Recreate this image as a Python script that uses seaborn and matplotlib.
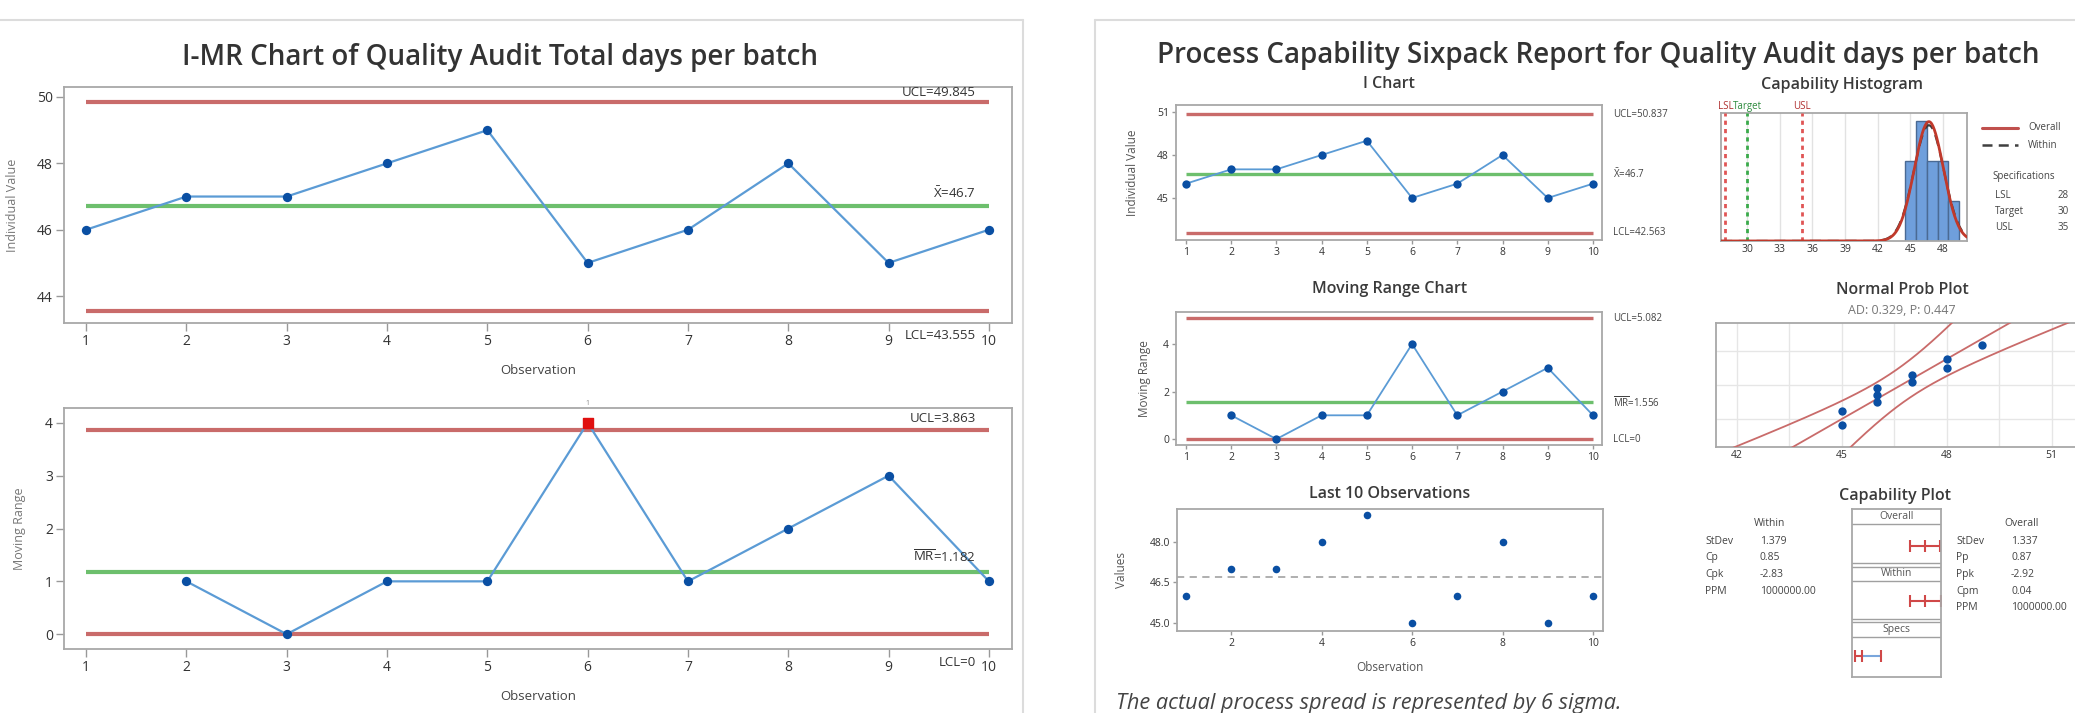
import numpy as np
import matplotlib
matplotlib.use("Agg")
import matplotlib.pyplot as plt
import seaborn as sns
from matplotlib.lines import Line2D
from statistics import NormalDist

W, H = 2075, 713

# observations (days per batch)
observation = [1, 2, 3, 4, 5, 6, 7, 8, 9, 10]
audit_days = [46, 47, 47, 48, 49, 45, 46, 48, 45, 46]
mr_observation = [2, 3, 4, 5, 6, 7, 8, 9, 10]
moving_range = [1, 0, 1, 1, 4, 1, 2, 3, 1]

# I-MR chart limits (left report)
imr_ucl, imr_mean, imr_lcl = 49.845, 46.7, 43.555
imr_mr_ucl, imr_mr_mean, imr_mr_lcl = 3.863, 1.182, 0

# sixpack limits (right report)
six_ucl, six_mean, six_lcl = 50.837, 46.7, 42.563
six_mr_ucl, six_mr_mean, six_mr_lcl = 5.082, 1.556, 0

# specs / capability
lsl, target, usl = 28, 30, 35
within_sd, overall_sd = 1.379, 1.337
within_labels = ["StDev", "Cp", "Cpk", "PPM"]
within_values = ["1.379", "0.85", "-2.83", "1000000.00"]
overall_labels = ["StDev", "Pp", "Ppk", "Cpm", "PPM"]
overall_values = ["1.337", "0.87", "-2.92", "0.04", "1000000.00"]
hist_edges = [44.5, 45.5, 46.5, 47.5, 48.5, 49.5]
hist_ticks = [30, 33, 36, 39, 42, 45, 48]
prob_ticks = [42, 45, 48, 51]
ad_text = "AD: 0.329, P: 0.447"

RED = "#c96b6a"
GREEN = "#6dbf6d"
BLUE = "#5b9bd5"
DOT = "#0a4fa3"
GRAY_TXT = "#444444"

sns.set_theme(style="white")
plt.rcParams["font.family"] = ["Open Sans", "DejaVu Sans"]
plt.rcParams["mathtext.fontset"] = "custom"
plt.rcParams["mathtext.rm"] = "Open Sans"
plt.rcParams["mathtext.it"] = "Open Sans:italic"


def px_axes(fig, l, t, r, b):
    return fig.add_axes([l / W, 1 - b / H, (r - l) / W, (b - t) / H])


def ftext(fig, x, y, s, **kw):
    kw.setdefault("color", GRAY_TXT)
    fig.text(x / W, 1 - y / H, s, **kw)


def fline(fig, x1, y1, x2, y2, **kw):
    fig.add_artist(Line2D([x1 / W, x2 / W], [1 - y1 / H, 1 - y2 / H], **kw))


def style_axes(ax, size, length=4):
    for sp in ax.spines.values():
        sp.set_color("#a8a8a8")
        sp.set_linewidth(1.3)
    ax.tick_params(colors="#999999", labelcolor="#333333", labelsize=size,
                   length=length, width=1, direction="out", pad=2,
                   bottom=True, left=True)
    ax.set_xlabel("")
    ax.set_ylabel("")


def control_chart(ax, x, y, ucl, mean, lcl, lw_lim, lw_line, s):
    ax.hlines([ucl, lcl], 1, 10, color=RED, lw=lw_lim, zorder=2)
    ax.hlines(mean, 1, 10, color=GREEN, lw=lw_lim, zorder=2)
    sns.lineplot(x=x, y=y, ax=ax, color=BLUE, lw=lw_line, zorder=3)
    sns.scatterplot(x=x, y=y, ax=ax, color=DOT, s=s, edgecolor=DOT,
                    linewidth=0, zorder=4)


fig = plt.figure(figsize=(W / 100, H / 100), dpi=100)

# panel frames
fline(fig, 0, 20, 1023, 20, color="#dcdcdc", lw=1.5)
fline(fig, 1023, 20, 1023, 713, color="#dcdcdc", lw=1.5)
fline(fig, 1095, 20, 2075, 20, color="#dcdcdc", lw=1.5)
fline(fig, 1095, 20, 1095, 713, color="#dcdcdc", lw=1.5)

# ---------------- left: I-MR chart ----------------
ftext(fig, 500, 58, "I-MR Chart of Quality Audit Total days per batch",
      ha="center", va="center", fontsize=20, weight="semibold", color="#333333")

ax = px_axes(fig, 64, 87, 1012, 323)
control_chart(ax, observation, audit_days, imr_ucl, imr_mean, imr_lcl, 3, 1.6, 45)
ax.set_xlim(0.78, 10.23)
ax.set_ylim(43.19, 50.3)
ax.set_xticks(observation)
ax.set_yticks([44, 46, 48, 50])
style_axes(ax, 10, length=6)
ax.set_ylabel("Individual Value", fontsize=9, color="#777777")
ax.yaxis.set_label_coords(-0.047, 0.5)
ax.set_xlabel("Observation", fontsize=9.5, color=GRAY_TXT)
ax.xaxis.set_label_coords(0.5, -0.174)
yt = ax.get_yaxis_transform()
ax.annotate(f"UCL={imr_ucl}", (0.962, imr_ucl), xycoords=yt, xytext=(0, 10),
            textcoords="offset pixels", ha="right", va="center", fontsize=9.5, color="#333333")
ax.annotate(r"$\bar{\mathrm{X}}$" + f"={imr_mean}", (0.962, imr_mean), xycoords=yt,
            xytext=(0, 13), textcoords="offset pixels", ha="right", va="center",
            fontsize=9.5, color="#333333")
ax.annotate(f"LCL={imr_lcl}", (0.962, imr_lcl), xycoords=yt, xytext=(0, -25),
            textcoords="offset pixels", ha="right", va="center", fontsize=9.5, color="#333333")

ax = px_axes(fig, 64, 408, 1012, 649)
control_chart(ax, mr_observation, moving_range, imr_mr_ucl, imr_mr_mean, imr_mr_lcl, 3, 1.6, 45)
ax.scatter([6], [4], marker="s", s=45, color="#e01010", zorder=5)
ax.text(6, 4.3, "1", ha="center", va="bottom", fontsize=5, color="#888888")
ax.set_xlim(0.78, 10.23)
ax.set_ylim(-0.28, 4.28)
ax.set_xticks(observation)
ax.set_yticks([0, 1, 2, 3, 4])
style_axes(ax, 10, length=6)
ax.set_ylabel("Moving Range", fontsize=9, color="#777777")
ax.yaxis.set_label_coords(-0.04, 0.5)
ax.set_xlabel("Observation", fontsize=9.5, color=GRAY_TXT)
ax.xaxis.set_label_coords(0.5, -0.17)
yt = ax.get_yaxis_transform()
ax.annotate(f"UCL={imr_mr_ucl}", (0.962, imr_mr_ucl), xycoords=yt, xytext=(0, 12),
            textcoords="offset pixels", ha="right", va="center", fontsize=9.5, color="#333333")
ax.annotate(r"$\overline{\mathrm{MR}}$" + f"={imr_mr_mean}", (0.962, imr_mr_mean),
            xycoords=yt, xytext=(0, 15), textcoords="offset pixels", ha="right",
            va="center", fontsize=9.5, color="#333333")
ax.annotate(f"LCL={imr_mr_lcl}", (0.962, imr_mr_lcl), xycoords=yt, xytext=(0, -28),
            textcoords="offset pixels", ha="right", va="center", fontsize=9.5, color="#333333")

# ---------------- right: capability sixpack ----------------
ftext(fig, 1598, 56, "Process Capability Sixpack Report for Quality Audit days per batch",
      ha="center", va="center", fontsize=20, weight="semibold", color="#333333")

sub_kw = dict(ha="center", va="center", fontsize=11.5, weight="semibold", color="#3a3a3a")
ftext(fig, 1389, 84, "I Chart", **sub_kw)
ftext(fig, 1390, 289, "Moving Range Chart", **sub_kw)
ftext(fig, 1390, 494, "Last 10 Observations", **sub_kw)
ftext(fig, 1842, 85, "Capability Histogram", **sub_kw)
ftext(fig, 1902, 290, "Normal Prob Plot", **sub_kw)
ftext(fig, 1902, 311, ad_text, ha="center", va="center", fontsize=9, color="#777777")
ftext(fig, 1895, 496, "Capability Plot", **sub_kw)

small = dict(fontsize=7, color="#444444", va="center", ha="left")

# I chart
ax = px_axes(fig, 1176, 105, 1602, 240)
control_chart(ax, observation, audit_days, six_ucl, six_mean, six_lcl, 2.4, 1.3, 36)
ax.set_xlim(0.78, 10.2)
ax.set_ylim(42.07, 51.49)
ax.set_xticks(observation)
ax.set_yticks([45, 48, 51])
style_axes(ax, 7.5, length=3)
ax.set_ylabel("Individual Value", fontsize=8.5, color="#555555")
ax.yaxis.set_label_coords(-0.087, 0.5)
yt = ax.get_yaxis_transform()
ax.text(1.025, six_ucl, f"UCL={six_ucl}", transform=yt, **small)
ax.text(1.025, six_mean, r"$\bar{\mathrm{X}}$" + f"={six_mean}", transform=yt, **small)
ax.text(1.025, six_lcl, f"LCL={six_lcl}", transform=yt, **small)

# moving range chart
ax = px_axes(fig, 1176, 312, 1602, 445)
control_chart(ax, mr_observation, moving_range, six_mr_ucl, six_mr_mean, six_mr_lcl, 2.4, 1.3, 36)
ax.set_xlim(0.78, 10.2)
ax.set_ylim(-0.25, 5.35)
ax.set_xticks(observation)
ax.set_yticks([0, 2, 4])
style_axes(ax, 7.5, length=3)
ax.set_ylabel("Moving Range", fontsize=8.5, color="#555555")
ax.yaxis.set_label_coords(-0.059, 0.5)
yt = ax.get_yaxis_transform()
ax.text(1.025, six_mr_ucl, f"UCL={six_mr_ucl}", transform=yt, **small)
ax.text(1.025, six_mr_mean, r"$\overline{\mathrm{MR}}$" + f"={six_mr_mean}", transform=yt, **small)
ax.text(1.025, six_mr_lcl, f"LCL={six_mr_lcl}", transform=yt, **small)

# last 10 observations
ax = px_axes(fig, 1177, 509, 1603, 631)
ax.axhline(six_mean, color="#a9a9a9", lw=1.3, ls=(0, (4, 3)), zorder=1)
sns.scatterplot(x=observation, y=audit_days, ax=ax, color=DOT, s=30,
                edgecolor=DOT, linewidth=0, zorder=4)
ax.set_xlim(0.8, 10.22)
ax.set_ylim(44.7, 49.22)
ax.set_xticks([2, 4, 6, 8, 10])
ax.set_yticks([45.0, 46.5, 48.0])
ax.set_yticklabels(["45.0", "46.5", "48.0"])
style_axes(ax, 7.5, length=3)
ax.set_ylabel("Values", fontsize=8.5, color="#555555")
ax.yaxis.set_label_coords(-0.115, 0.5)
ax.set_xlabel("Observation", fontsize=8.5, color="#555555")
ax.xaxis.set_label_coords(0.5, -0.246)

# capability histogram
ax = px_axes(fig, 1721, 113, 1967, 241)
sns.histplot(x=audit_days, bins=hist_edges, ax=ax, color="#6f9fdc", alpha=1,
             edgecolor="#4a6a94", linewidth=1, zorder=2)
xs = np.linspace(27.6, 50.2, 400)
n = len(audit_days)
ax.plot(xs, n * np.array([NormalDist(six_mean, overall_sd).pdf(v) for v in xs]),
        color="#c0392b", lw=2, zorder=4)
ax.plot(xs, n * np.array([NormalDist(six_mean, within_sd).pdf(v) for v in xs]),
        color="#3c3c3c", lw=1.6, ls=(0, (5, 3)), zorder=3)
for val, col, lab in [(lsl, "#e05555", "LSL"), (target, "#3aaa4a", "Target"), (usl, "#e05555", "USL")]:
    ax.axvline(val, color=col, lw=2, ls=(0, (1.5, 1.5)), zorder=3)
    ax.text(val, 1.01, lab, transform=ax.get_xaxis_transform(), ha="center", va="bottom",
            fontsize=7, color="#b03030" if lab != "Target" else "#2e8b3e")
ax.set_xlim(27.6, 50.2)
ax.set_ylim(0, 3.2)
ax.set_xticks(hist_ticks)
ax.set_yticks([])
ax.grid(axis="x", color="#e2e2e2", lw=1)
ax.set_axisbelow(True)
style_axes(ax, 7.5, length=0)
ax.tick_params(left=False)

# legend + specs
fline(fig, 1982, 128, 2018, 128, color="#c0504d", lw=2.2)
fline(fig, 1982, 145, 2018, 145, color="#404040", lw=1.8, ls=(0, (4, 2.5)))
ftext(fig, 2028, 128, "Overall", **small)
ftext(fig, 2028, 145, "Within", **small)
ftext(fig, 1992, 177, "Specifications", **small)
for yy, lab, val in [(195, "LSL", lsl), (211, "Target", target), (228, "USL", usl)]:
    ftext(fig, 1995, yy, lab, **small)
    ftext(fig, 2058, yy, str(val), **small)

# normal probability plot
ax = px_axes(fig, 1716, 323, 2076, 447)
nd = NormalDist()
sorted_days = sorted(audit_days)
z_pts = [nd.inv_cdf((i - 0.3) / (n + 0.4)) for i in range(1, n + 1)]
zz = np.linspace(-2.5, 2.5, 200)
fit = six_mean + overall_sd * zz
half = 1.96 * overall_sd * np.sqrt(1 / n + zz ** 2 / (2 * (n - 1)))
for curve in (fit, fit - half, fit + half):
    ax.plot(curve, zz, color="#c96b6a", lw=1.3, zorder=3)
sns.scatterplot(x=sorted_days, y=z_pts, ax=ax, color=DOT, s=36, edgecolor=DOT,
                linewidth=0, zorder=4)
for gx in np.arange(42, 52, 1.5):
    ax.axvline(gx, color="#e6e6e6", lw=1, zorder=1)
for p in (0.1, 0.5, 0.9):
    ax.axhline(nd.inv_cdf(p), color="#e6e6e6", lw=1, zorder=1)
ax.set_xlim(41.4, 51.7)
ax.set_ylim(-2.32, 2.32)
ax.set_xticks(prob_ticks)
ax.set_yticks([])
style_axes(ax, 7.5, length=0)
ax.tick_params(left=False)

# capability plot
ax = px_axes(fig, 1852, 509, 1941, 677)
ax.set_xlim(27.3, 50.9)
ax.set_ylim(168, 0)
for yy in [15, 54, 58, 72, 110, 113, 128]:
    ax.axhline(yy, color="#a0a0a0", lw=1)
for yy, lab in [(7.5, "Overall"), (65, "Within"), (120.5, "Specs")]:
    ax.text(np.mean(ax.get_xlim()), yy, lab, ha="center", va="center", fontsize=7.5, color="#555555")
intervals = [(37, six_mean - 3 * overall_sd, six_mean, six_mean + 3 * overall_sd),
             (92, six_mean - 3 * within_sd, six_mean, six_mean + 3 * within_sd),
             (147, lsl, target, usl)]
for yy, lo, mid, hi in intervals:
    ax.plot([lo, mid], [yy, yy], color="#d04848", lw=1.5)
    ax.plot([mid, hi], [yy, yy], color="#d04848" if yy < 140 else "#7aa6dc", lw=1.5)
    ax.plot([lo, mid, hi], [yy] * 3, ls="none", marker="|", ms=8, mew=1.5, color="#d04848")
ax.set_xticks([])
ax.set_yticks([])
style_axes(ax, 7, length=0)

tbl = dict(fontsize=7.5, color="#444444", va="center")
ftext(fig, 1770, 523, "Within", ha="center", **tbl)
for i, (lab, val) in enumerate(zip(within_labels, within_values)):
    ftext(fig, 1705, 541 + i * 16.7, lab, ha="left", **tbl)
    ftext(fig, 1760, 541 + i * 16.7, val, ha="left", **tbl)
ftext(fig, 2022, 523, "Overall", ha="center", **tbl)
for i, (lab, val) in enumerate(zip(overall_labels, overall_values)):
    ftext(fig, 1956, 541 + i * 16.7, lab, ha="left", **tbl)
    ftext(fig, 2011, 541 + i * 16.7, val, ha="left", **tbl)

ftext(fig, 1116, 693, "The actual process spread is represented by 6 sigma.",
      ha="left", va="top", fontsize=15.7, style="italic", color="#444444")

fig.savefig("out.png", dpi=100)
